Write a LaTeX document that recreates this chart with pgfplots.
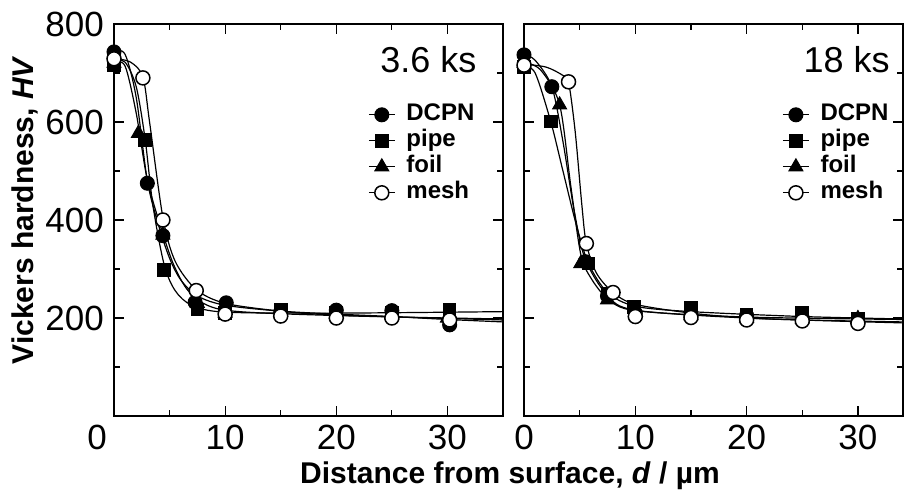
\documentclass[border=0pt]{standalone}
\usepackage{fontspec}
\setmainfont{Liberation Sans}
\usepackage{pgfplots}
\pgfplotsset{compat=1.18}

\pgfplotsset{
  legend image code/.code={\draw[mark repeat=2,mark phase=2,#1] plot coordinates {(0pt,0pt) (13pt,0pt) (26pt,0pt)};},
  hv/.style={
    scale only axis, height=392pt,
    xmin=0, ymin=0, ymax=800,
    ytick={200,400,600,800}, minor ytick={100,300,500,700},
    minor xtick={5,15,25},
    tick align=inside, major tick length=10pt, minor tick length=6pt,
    tick style={black, line width=1.2pt},
    axis line style={line width=1.2pt},
    /pgf/number format/assume math mode=true,
    tick label style={font=\fontsize{35}{35}\selectfont, inner sep=0pt},
    xticklabel style={yshift=-9pt},
    yticklabel style={xshift=-10pt},
    legend style={draw=none, fill=none, inner sep=0pt, anchor=north west,
      font=\fontsize{24}{24}\selectfont\bfseries,
      nodes={text height=18pt, text depth=6pt, inner sep=1pt}, column sep=10pt},
    legend cell align=left,
  },
  curve/.style={black, line width=1.2pt, smooth, no marks, forget plot},
  pts/.style={only marks, forget plot},
  dcpn/.style={mark=*, mark size=7pt, mark options={solid, fill=black, line width=1pt}},
  pipe/.style={mark=square*, mark size=6.3pt, mark options={solid, fill=black, line width=1pt}},
  foil/.style={mark=triangle*, mark size=8pt, mark options={solid, fill=black, line width=1pt}},
  mesh/.style={mark=*, mark size=7pt, mark options={solid, fill=white, line width=1.5pt}},
}

\begin{document}
\begin{tikzpicture}
\path[use as bounding box] (-114pt,-79pt) rectangle (790pt,416pt);

% 3.6 ks
\begin{axis}[hv, width=389pt, xmax=35, xtick={10,20,30},
  extra x ticks={0}, extra x tick labels={0},
  extra x tick style={xticklabel style={xshift=-17pt}},
  ylabel={Vickers hardness, \textit{HV}},
  ylabel style={at={([xshift=-89pt]rel axis cs:0,0.525)}, anchor=center,
    font=\fontsize{30}{30}\selectfont\bfseries},
  xlabel={Distance from surface, \textit{d} / µm},
  xlabel style={at={([xshift=396pt,yshift=-60pt]rel axis cs:0,0)}, anchor=center,
    font=\fontsize{30}{30}\selectfont\bfseries},
  legend style={at={(rel axis cs:0.653,0.802)}}]
\addplot[curve] coordinates {(0,745) (1,738) (2,650) (3,480) (4,390) (5,322) (6,278) (7.5,245) (10,226) (15,214) (20,208) (25,203) (30,197) (35,192)};
\addplot[curve] coordinates {(0,725) (1,722) (2,672) (2.8,565) (3.5,430) (4.5,310) (5.5,256) (7,226) (10,212) (20,210) (35,213)};
\addplot[curve] coordinates {(0,722) (1,714) (2,618) (3,482) (4.4,372) (5.5,302) (7,248) (10,216) (20,205) (35,198)};
\addplot[curve] coordinates {(0,730) (1.5,722) (2.6,692) (3.2,600) (4.4,405) (5.5,316) (7.4,258) (10,230) (15,214) (20,206) (35,196)};
\addplot[pts, dcpn] coordinates {(0,743) (3.0,475) (4.4,368) (7.3,232) (10.1,231) (15,212) (20,216) (25,215) (30.2,186)};
\addplot[pts, pipe] coordinates {(0,716) (2.8,563) (4.5,298) (7.5,217) (10,210) (15,216) (20,210) (25,210) (30.2,216)};
\addplot[pts, foil] coordinates {(0,720) (2.2,577) (4.4,369) (7.5,230) (10,210) (15,212) (20,208) (25,206) (30,200)};
\addplot[pts, mesh] coordinates {(0,729) (2.6,690) (4.4,400) (7.4,256) (10,208) (15,204) (20,200) (25,200) (30.2,196)};
\addlegendimage{black, line width=1.2pt, dcpn}\addlegendentry{DCPN}
\addlegendimage{black, line width=1.2pt, pipe}\addlegendentry{pipe}
\addlegendimage{black, line width=1.2pt, foil}\addlegendentry{foil}
\addlegendimage{black, line width=1.2pt, mesh}\addlegendentry{mesh}
\node[anchor=east, font=\fontsize{36}{36}\selectfont] at (rel axis cs:0.941,0.908) {3.6 ks};
\end{axis}

% 18 ks
\begin{axis}[hv, at={(410pt,0pt)}, anchor=south west, width=379pt, xmax=34.05,
  xtick={0,10,20,30}, yticklabels={},
  legend style={at={(rel axis cs:0.681,0.802)}}]
\addplot[curve] coordinates {(0,738) (1,726) (2.5,672) (3.5,560) (4.5,420) (5.5,320) (7.5,246) (10,216) (20,200) (34.05,190)};
\addplot[curve] coordinates {(0,712) (1,700) (2.4,601) (3.5,500) (4.7,390) (5.8,311) (7.5,252) (10,224) (15,213) (25,203) (34.05,198)};
\addplot[curve] coordinates {(0,722) (1.5,706) (3.2,635) (4.2,470) (5.1,330) (6,282) (7.5,240) (10,215) (20,202) (34.05,197)};
\addplot[curve] coordinates {(0,718) (2,712) (3.5,695) (4.0,682) (4.6,580) (5.2,430) (5.6,352) (6.5,292) (8,252) (10,228) (15,210) (20,200) (25,196) (34.05,192)};
\addplot[pts, dcpn] coordinates {(0,737) (2.5,672) (5.5,315) (7.5,245) (10,210) (15,205) (20,205) (25,200) (30,190)};
\addplot[pts, pipe] coordinates {(0,712) (2.4,601) (5.8,311) (7.5,250) (9.9,223) (15,220) (20,206) (25,211) (30,198)};
\addplot[pts, foil] coordinates {(0,720) (3.2,635) (5.1,311) (7.5,237) (10,212) (15,205) (20,200) (25,198) (30,199)};
\addplot[pts, mesh] coordinates {(0,716) (4.0,682) (5.6,352) (8.0,252) (10,203) (15,201) (20,196) (25,194) (30,189)};
\addlegendimage{black, line width=1.2pt, dcpn}\addlegendentry{DCPN}
\addlegendimage{black, line width=1.2pt, pipe}\addlegendentry{pipe}
\addlegendimage{black, line width=1.2pt, foil}\addlegendentry{foil}
\addlegendimage{black, line width=1.2pt, mesh}\addlegendentry{mesh}
\node[anchor=east, font=\fontsize{36}{36}\selectfont] at (rel axis cs:0.974,0.908) {18 ks};
\end{axis}
\end{tikzpicture}
\end{document}
